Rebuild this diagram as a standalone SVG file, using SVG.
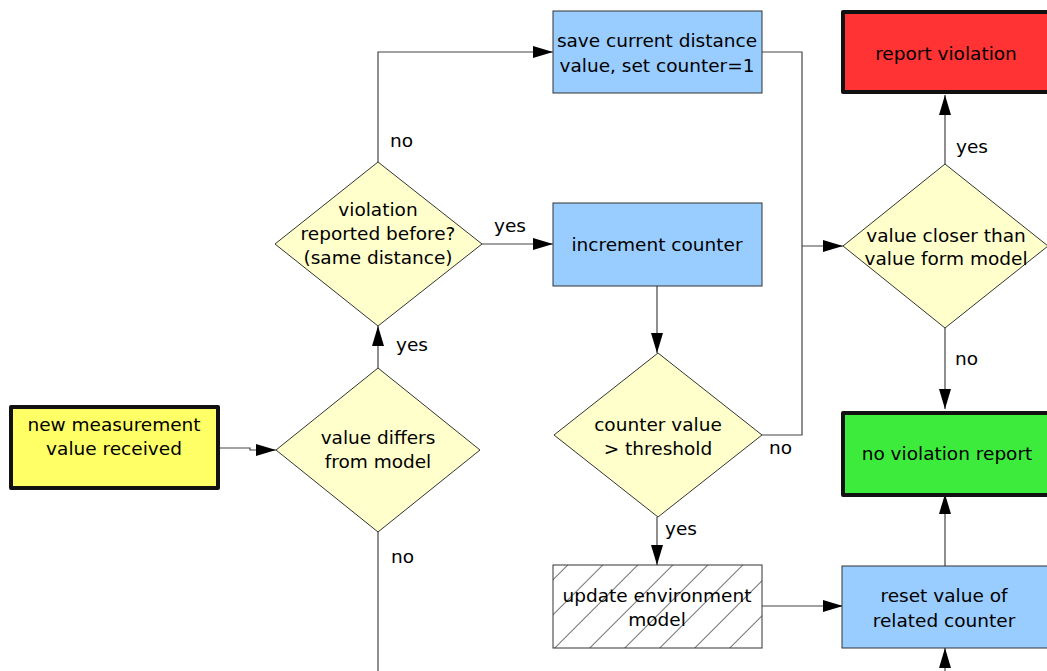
<svg xmlns="http://www.w3.org/2000/svg" width="1047" height="671" viewBox="0 0 1047 671">
<defs>
<style>
text{font-family:"DejaVu Sans","Verdana",sans-serif;font-size:18.5px;fill:#000}
.c{text-anchor:middle}
.box{stroke:#333;stroke-width:1}
.thick{stroke:#111;stroke-width:4;stroke-linejoin:round}
.dia{fill:#ffffcc;stroke:#333;stroke-width:1}
.blue{fill:#99ccff}
.conn{fill:none;stroke:#444;stroke-width:1.2}
</style>
<marker id="ah" viewBox="0 0 20 12" refX="20" refY="6" markerWidth="20" markerHeight="12" markerUnits="userSpaceOnUse" orient="auto">
<path d="M0,0 L20,6 L0,12 Z" fill="#000"/>
</marker>
<pattern id="hatch" patternUnits="userSpaceOnUse" x="553" y="565" width="24.75" height="24.75" patternTransform="rotate(45)">
<rect width="24.75" height="24.75" fill="#fff"/>
<line x1="0" y1="-1" x2="0" y2="26" stroke="#000" stroke-width="1.1"/>
</pattern>
</defs>
<rect width="1047" height="671" fill="#fff"/>

<g id="connectors">
<polyline class="conn" points="220,448 250,448 250,450 276,450" marker-end="url(#ah)"/>
<line class="conn" x1="378" y1="368" x2="378" y2="326" marker-end="url(#ah)"/>
<line class="conn" x1="378" y1="532" x2="378" y2="671"/>
<polyline class="conn" points="378,162 378,52 553,52" marker-end="url(#ah)"/>
<line class="conn" x1="482" y1="244" x2="553" y2="244" marker-end="url(#ah)"/>
<line class="conn" x1="657" y1="286" x2="657" y2="353" marker-end="url(#ah)"/>
<polyline class="conn" points="762,52 802,52 802,435 762,435"/>
<line class="conn" x1="802" y1="246" x2="843" y2="246" marker-end="url(#ah)"/>
<line class="conn" x1="657" y1="517" x2="657" y2="565" marker-end="url(#ah)"/>
<line class="conn" x1="762" y1="606" x2="843" y2="606" marker-end="url(#ah)"/>
<line class="conn" x1="945" y1="566" x2="945" y2="494" marker-end="url(#ah)"/>
<line class="conn" x1="945" y1="671" x2="945" y2="648" marker-end="url(#ah)"/>
<line class="conn" x1="945" y1="164" x2="945" y2="95" marker-end="url(#ah)"/>
<line class="conn" x1="945" y1="328" x2="945" y2="409" marker-end="url(#ah)"/>
<text x="390" y="147">no</text>
<text x="494" y="232">yes</text>
<text x="396" y="351">yes</text>
<text x="391" y="563">no</text>
<text x="769" y="454">no</text>
<text x="665" y="535">yes</text>
<text x="956" y="153">yes</text>
<text x="955" y="365">no</text>
</g>

<g id="start">
<rect class="thick" x="11" y="407" width="207" height="81" fill="#ffff66"/>
<text class="c" x="114" y="431">new measurement</text>
<text class="c" x="114" y="455">value received</text>
</g>

<g id="differs">
<polygon class="dia" points="378,368 480,450 378,532 276,450"/>
<text class="c" x="378" y="444">value differs</text>
<text class="c" x="378" y="468">from model</text>
</g>

<g id="reported">
<polygon class="dia" points="378,162 482,244 378,326 275,244"/>
<text class="c" x="378" y="216">violation</text>
<text class="c" x="378" y="240">reported before?</text>
<text class="c" x="378" y="264">(same distance)</text>
</g>

<g id="save">
<rect class="box blue" x="553" y="11" width="209" height="82"/>
<text class="c" x="657" y="47">save current distance</text>
<text class="c" x="657" y="72">value, set counter=1</text>
</g>

<g id="increment">
<rect class="box blue" x="553" y="203" width="209" height="83"/>
<text class="c" x="657" y="251">increment counter</text>
</g>

<g id="threshold">
<polygon class="dia" points="658,353 762,435 658,517 554,435"/>
<text class="c" x="658" y="431">counter value</text>
<text class="c" x="658" y="455">&gt; threshold</text>
</g>

<g id="update">
<rect class="box" x="553" y="565" width="209" height="83" fill="url(#hatch)"/>
<text class="c" x="657" y="602">update environment</text>
<text class="c" x="657" y="626">model</text>
</g>

<g id="reset">
<rect class="box blue" x="842" y="566" width="210" height="82"/>
<text class="c" x="944" y="602">reset value of</text>
<text class="c" x="944" y="627">related counter</text>
</g>

<g id="noviolation">
<rect class="thick" x="843" y="413" width="210" height="82" fill="#3deb3d"/>
<text class="c" x="947" y="460">no violation report</text>
</g>

<g id="closer">
<polygon class="dia" points="945,164 1048,246 945,328 843,246"/>
<text class="c" x="946" y="242">value closer than</text>
<text class="c" x="946" y="265">value form model</text>
</g>

<g id="report">
<rect class="thick" x="843" y="12" width="210" height="80" fill="#ff3333"/>
<text class="c" x="946" y="60">report violation</text>
</g>
</svg>
